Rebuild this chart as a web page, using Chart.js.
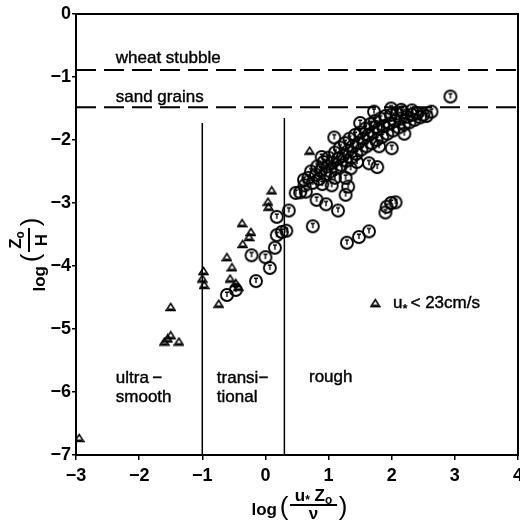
<!DOCTYPE html>
<html>
<head>
<meta charset="utf-8">
<script src="https://cdn.jsdelivr.net/npm/chart.js@4/dist/chart.umd.min.js"></script>
<style>
  html, body { margin: 0; padding: 0; background: #fff; }
</style>
</head>
<body>
<canvas id="diagram" width="520" height="520"></canvas>
<script>
// axis ticks
const xTicks = [-3, -2, -1, 0, 1, 2, 3, 4];
const yTicks = [0, -1, -2, -3, -4, -5, -6, -7];

// reference levels and regime limits
const wheatLevel = -0.89;
const sandLevel = -1.48;
const smoothLimit = [[-1, -7], [-1, -1.73]];
const roughLimit = [[0.3, -7], [0.3, -1.65]];

// u* < 23 cm/s (triangles)
const slowRuns = [
  [-2.95, -6.73], [-1.5, -4.65], [-1.6, -5.2], [-1.5, -5.1], [-1.37, -5.2], [-1.55, -5.15],
  [-0.98, -4.08], [-1.0, -4.2], [-0.97, -4.3], [-0.74, -4.6], [-0.61, -3.86], [-0.53, -4.02],
  [-0.56, -4.2], [-0.47, -4.27], [-0.43, -4.33], [-0.36, -3.65], [-0.37, -3.32], [-0.23, -3.46],
  [-0.26, -3.54], [0.04, -2.98], [0.05, -3.06], [0.1, -2.8], [0.7, -2.17]
];

// other runs (circles)
const fastRuns = [
  [2.93, -1.31], [1.72, -1.55], [1.99, -1.5], [2.15, -1.52], [2.32, -1.53], [2.63, -1.55],
  [1.5, -1.73], [1.75, -1.79], [1.09, -1.96], [0.89, -2.27], [0.61, -2.63], [0.48, -2.84],
  [0.64, -2.82], [0.55, -2.83], [0.81, -2.95], [0.96, -3.02], [1.27, -2.87], [1.15, -3.12],
  [0.75, -3.37], [1.29, -3.63], [1.48, -3.54], [1.64, -3.45], [1.92, -3.06], [1.99, -3.0],
  [2.06, -2.99], [1.9, -3.15], [0.37, -3.12], [0.18, -3.22], [0.18, -3.51], [0.26, -3.46],
  [0.33, -3.44], [0.15, -3.71], [-0.22, -3.83], [0.0, -3.86], [0.07, -4.03], [-0.15, -4.24],
  [-0.47, -4.38], [-0.61, -4.46], [1.05, -2.72], [1.31, -2.74], [1.64, -2.37], [1.77, -2.43],
  [2.0, -2.13], [1.27, -2.6],
  [0.62, -2.72], [0.68, -2.6], [0.72, -2.5], [0.75, -2.68], [0.8, -2.55], [0.82, -2.42],
  [0.85, -2.62], [0.88, -2.48], [0.92, -2.35], [0.95, -2.55], [0.98, -2.42], [1.0, -2.28],
  [1.03, -2.5], [1.06, -2.36], [1.1, -2.2], [1.12, -2.45], [1.15, -2.3], [1.18, -2.12],
  [1.2, -2.4], [1.23, -2.25], [1.26, -2.05], [1.28, -2.33], [1.3, -2.18], [1.33, -1.98],
  [1.36, -2.28], [1.38, -2.1], [1.42, -1.92], [1.44, -2.22], [1.47, -2.05], [1.5, -1.88],
  [1.52, -2.15], [1.55, -1.98], [1.58, -1.82], [1.6, -2.1], [1.63, -1.92], [1.66, -1.75],
  [1.68, -2.05], [1.7, -1.88], [1.73, -1.7], [1.76, -2.0], [1.79, -1.82], [1.82, -1.66],
  [1.85, -1.95], [1.87, -1.78], [1.9, -1.62], [1.93, -1.9], [1.96, -1.74], [1.99, -1.6],
  [2.02, -1.85], [2.05, -1.7], [2.08, -1.58], [2.11, -1.8], [2.14, -1.66], [2.18, -1.56],
  [2.2, -1.75], [2.24, -1.63], [2.28, -1.72], [2.32, -1.6], [2.36, -1.68], [2.4, -1.58],
  [2.45, -1.64], [2.5, -1.6], [2.55, -1.62], [1.1, -2.6], [1.35, -2.45], [1.45, -2.35],
  [1.8, -2.1], [2.2, -1.9], [0.9, -2.7]
];

// text labels inside the plot (data coordinates)
const notes = [
  { text: 'wheat stubble', x: -2.37, y: -0.70 },
  { text: 'sand grains', x: -2.37, y: -1.32 },
  { text: 'ultra\u2009\u2212', x: -2.37, y: -5.78 },
  { text: 'smooth', x: -2.37, y: -6.08 },
  { text: 'transi\u2212', x: -0.77, y: -5.78 },
  { text: 'tional', x: -0.77, y: -6.08 },
  { text: 'rough', x: 0.69, y: -5.77 }
];
const legendSpot = { x: 1.74, y: -4.59, textX: 2.02 };

const FONT = '"Liberation Sans", Arial, sans-serif';
const pts = arr => arr.map(p => ({ x: p[0], y: p[1] }));
const minus = v => String(v).replace('-', '\u2212');
const noPad = () => ({ left: 0, top: 0, right: 0, bottom: 0 });

// marker images
function circleMark() {
  const c = document.createElement('canvas');
  c.width = 16; c.height = 16;
  const g = c.getContext('2d');
  g.strokeStyle = '#000'; g.lineWidth = 1.9;
  g.beginPath(); g.arc(8, 8, 6, 0, Math.PI * 2); g.stroke();
  g.lineWidth = 1.4;
  g.beginPath(); g.moveTo(6, 5.2); g.lineTo(10, 5.2); g.moveTo(8, 5.2); g.lineTo(8, 10); g.stroke();
  return c;
}
function triangleMark() {
  const c = document.createElement('canvas');
  c.width = 11; c.height = 10;
  const g = c.getContext('2d');
  g.strokeStyle = '#000'; g.fillStyle = '#000'; g.lineWidth = 1.5;
  g.beginPath(); g.moveTo(1, 8.5); g.lineTo(5.5, 1.5); g.lineTo(10, 8.5); g.closePath(); g.stroke();
  g.fillRect(3, 6.5, 5, 2.5);
  return c;
}
const circleImg = circleMark();
const triangleImg = triangleMark();

// draw text with subscript runs
function drawRuns(ctx, runs, cx, cy, size) {
  const widths = runs.map(r => {
    ctx.font = 'bold ' + (r.sub ? size * 0.7 : size) + 'px ' + FONT;
    return ctx.measureText(r.t).width;
  });
  let x = cx - widths.reduce((a, b) => a + b, 0) / 2;
  runs.forEach((r, i) => {
    ctx.font = 'bold ' + (r.sub ? size * 0.7 : size) + 'px ' + FONT;
    ctx.fillText(r.t, x, cy + (r.sub ? size * 0.3 : 0));
    x += widths[i];
  });
}

function drawTitle(ctx, ox, oy, rot, t) {
  ctx.save();
  ctx.translate(ox, oy);
  ctx.rotate(rot);
  ctx.fillStyle = '#000'; ctx.strokeStyle = '#000';
  ctx.textBaseline = 'middle';
  ctx.font = 'bold 17px ' + FONT;
  ctx.textAlign = 'right';
  ctx.fillText('log', t.logRight, t.logY);
  ctx.font = '26px ' + FONT;
  ctx.textAlign = 'center';
  ctx.fillText('(', t.left - 6, 3);
  ctx.fillText(')', t.right + 6, 3);
  ctx.lineWidth = 2;
  ctx.beginPath(); ctx.moveTo(t.left, 0); ctx.lineTo(t.right, 0); ctx.stroke();
  ctx.textAlign = 'left';
  drawRuns(ctx, t.num, (t.left + t.right) / 2, -t.gap, 17);
  drawRuns(ctx, t.den, (t.left + t.right) / 2, t.gap, 17);
  ctx.restore();
}

function heavyText(ctx, text, x, y) {
  ctx.fillText(text, x, y);
  ctx.strokeText(text, x, y);
}

const overlay = {
  id: 'overlay',
  afterDraw(chart) {
    const { ctx, chartArea: a, scales: { x, y } } = chart;
    ctx.save();
    ctx.strokeStyle = '#000'; ctx.lineWidth = 2;
    ctx.strokeRect(a.left, a.top, a.right - a.left, a.bottom - a.top);
    ctx.fillStyle = '#000';
    ctx.lineWidth = 0.4;
    ctx.font = '17px ' + FONT;
    ctx.textBaseline = 'middle'; ctx.textAlign = 'left';
    notes.forEach(n => heavyText(ctx, n.text, x.getPixelForValue(n.x), y.getPixelForValue(n.y)));
    // legend
    const lx = x.getPixelForValue(legendSpot.x), ly = y.getPixelForValue(legendSpot.y);
    ctx.drawImage(triangleImg, lx - 5.5, ly - 5);
    let tx = x.getPixelForValue(legendSpot.textX);
    ctx.font = '17px ' + FONT;
    heavyText(ctx, 'u', tx, ly);
    tx += ctx.measureText('u').width;
    ctx.font = 'bold 13px ' + FONT;
    ctx.fillText('*', tx, ly + 6);
    tx += ctx.measureText('*').width + 3;
    ctx.font = '17px ' + FONT;
    heavyText(ctx, '< 23cm/s', tx, ly);
    ctx.restore();

    drawTitle(ctx, 313, 505, 0, {
      logRight: -36, logY: 5, left: -23, right: 24, gap: 9,
      num: [{ t: 'u' }, { t: '*', sub: true }, { t: ' Z' }, { t: 'o', sub: true }],
      den: [{ t: '\u03bd' }]
    });
    drawTitle(ctx, 29, 240, -Math.PI / 2, {
      logRight: -26, logY: 11, left: -12, right: 12, gap: 13,
      num: [{ t: 'Z' }, { t: 'o', sub: true }],
      den: [{ t: 'H' }]
    });
  }
};

const ctx = document.getElementById('diagram');
const lineSet = (data, dash, width) => ({
  type: 'line', data, borderColor: '#000', borderWidth: width, borderDash: dash,
  pointRadius: 0, fill: false, tension: 0
});

new Chart(ctx, {
  type: 'scatter',
  data: {
    datasets: [
      lineSet([{ x: -3, y: wheatLevel }, { x: 4, y: wheatLevel }], [20, 8], 2),
      lineSet([{ x: -3, y: sandLevel }, { x: 4, y: sandLevel }], [20, 8], 2),
      lineSet(pts(smoothLimit), [], 1.5),
      lineSet(pts(roughLimit), [], 1.5),
      { data: pts(fastRuns), pointStyle: circleImg, pointRadius: 6 },
      { data: pts(slowRuns), pointStyle: triangleImg, pointRadius: 5 }
    ]
  },
  options: {
    responsive: false,
    animation: false,
    layout: { autoPadding: false, padding: { top: 14, right: 2, left: 0, bottom: 0 } },
    plugins: { legend: { display: false }, tooltip: { enabled: false } },
    scales: {
      x: {
        type: 'linear', min: -3, max: 4,
        afterBuildTicks: s => { s.ticks = xTicks.map(v => ({ value: v })); },
        afterFit: s => { s.height = 65; s.paddingLeft = 0; s.paddingRight = 0; s.getPadding = noPad; },
        ticks: { color: '#000', padding: 5, maxRotation: 0, font: { family: FONT, size: 18, weight: 'bold' }, callback: minus },
        grid: { drawOnChartArea: false, color: '#000', tickLength: 5, lineWidth: 1.5 },
        border: { color: '#000', width: 2 }
      },
      y: {
        type: 'linear', min: -7, max: 0,
        afterBuildTicks: s => { s.ticks = yTicks.map(v => ({ value: v })); },
        afterFit: s => { s.width = 76; s.getPadding = noPad; },
        ticks: { color: '#000', padding: 1, font: { family: FONT, size: 18, weight: 'bold' }, callback: minus },
        grid: { drawOnChartArea: false, color: '#000', tickLength: 4, lineWidth: 1.5 },
        border: { color: '#000', width: 2 }
      }
    }
  },
  plugins: [overlay]
});
</script>
</body>
</html>
